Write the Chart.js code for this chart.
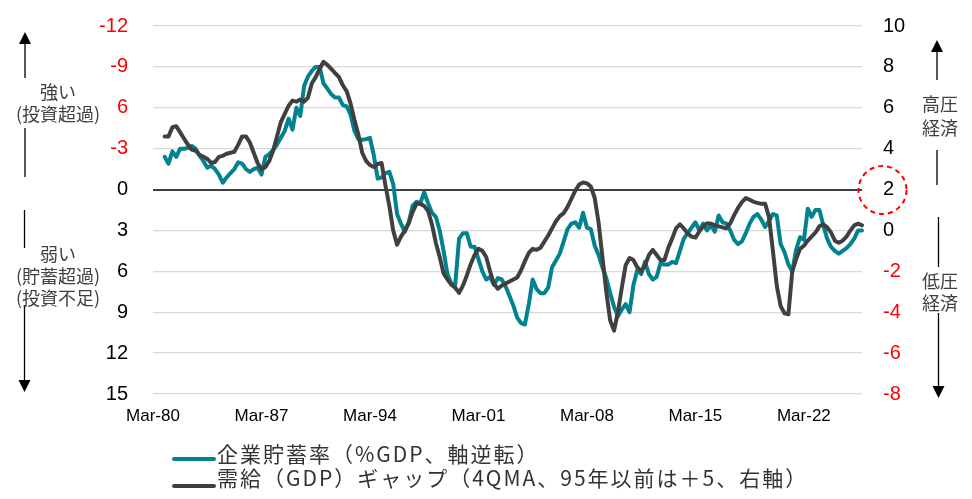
<!DOCTYPE html>
<html><head><meta charset="utf-8">
<script src="https://cdn.jsdelivr.net/npm/chart.js@4.4.1/dist/chart.umd.min.js"></script>
<style>
html,body{margin:0;padding:0;background:#fff;}
#wrap{position:relative;width:972px;height:499px;overflow:hidden;background:#fff;}
#c{position:absolute;left:0;top:0;}
.ann{position:absolute;width:120px;font-family:"Noto Sans CJK JP";font-size:18px;color:#404040;text-align:center;line-height:22px;white-space:nowrap;}
.legt{position:absolute;left:217px;font-family:"Noto Sans CJK JP";font-size:21px;letter-spacing:2px;color:#333;white-space:nowrap;line-height:26px;height:26px;}
.legs{position:absolute;left:172px;width:44px;height:4px;border-radius:2px;}
</style></head>
<body>
<div id="wrap">
<canvas id="c" width="972" height="499"></canvas>
<div class="ann" style="left:-2px;top:80px;">強い</div>
<div class="ann" style="left:-2px;top:102px;">(投資超過)</div>
<div class="ann" style="left:-2px;top:242px;">弱い</div>
<div class="ann" style="left:-2px;top:264px;">(貯蓄超過)</div>
<div class="ann" style="left:-2px;top:286px;">(投資不足)</div>
<div class="ann" style="left:880px;top:92px;">高圧</div>
<div class="ann" style="left:880px;top:116px;">経済</div>
<div class="ann" style="left:880px;top:269px;">低圧</div>
<div class="ann" style="left:880px;top:291px;">経済</div>
<div class="legs" id="sw1" style="top:457px;"></div>
<div class="legt" id="lt1" style="top:440px;"></div>
<div class="legs" id="sw2" style="top:484px;"></div>
<div class="legt" id="lt2" style="top:464px;"></div>
</div>
<script>
// ---- data ----
const months = ['Mar','Jun','Sep','Dec'];
const firstYear = 1980, lastYear = 2025;
const quarters = [];
for (let y = firstYear; y <= lastYear; y++) for (const m of months) quarters.push(m + '-' + String(y % 100).padStart(2,'0'));

const seriesNames = ['企業貯蓄率（%GDP、軸逆転）', '需給（GDP）ギャップ（4QMA、95年以前は＋5、右軸）'];
const seriesColors = ['#00838F', '#404040'];

// corporate savings rate, % of GDP (left axis, reversed)
const savings = [null,null,null,
-2.4,-1.9,-2.8,-2.4,-3.0,-3.0,-3.05,-3.2,-3.0,-2.5,
-2.1,-1.6,-1.75,-1.5,-1.1,-0.5,-0.9,-1.2,-1.5,-2.0,
-1.9,-1.5,-1.3,-1.5,-1.6,-1.1,-2.4,-2.6,-2.9,-3.3,
-3.8,-4.3,-5.2,-4.4,-6.0,-5.4,-7.6,-8.3,-8.7,-9.0,
-9.0,-7.8,-7.4,-7.0,-6.75,-6.75,-6.2,-6.1,-5.5,-4.3,
-3.7,-3.65,-3.7,-3.8,-2.5,-0.8,-0.9,-1.2,-1.3,-0.4,
1.8,2.5,3.1,2.4,1.2,0.9,1.0,0.2,1.0,1.7,
2.0,3.0,4.5,6.2,6.9,7.0,3.6,3.2,3.2,4.2,
4.2,5.1,6.0,6.6,6.4,7.0,6.5,6.6,7.1,7.8,
8.5,9.4,9.8,9.9,8.4,6.6,7.3,7.6,7.6,7.2,
5.7,5.2,4.7,3.8,2.9,2.5,2.4,2.8,1.7,2.8,
2.9,4.1,4.8,5.7,6.5,7.6,8.6,9.3,8.8,8.4,
9.0,7.0,5.9,6.2,5.3,6.2,6.6,6.4,5.4,5.5,
5.5,5.3,5.4,4.5,3.6,3.2,2.8,2.4,3.0,2.5,
3.0,2.6,3.1,1.9,2.4,2.5,3.0,3.7,4.0,3.8,
3.2,2.5,2.0,1.8,2.2,2.75,2.3,1.8,1.9,4.0,
4.6,5.5,6.0,4.4,3.5,3.7,1.4,2.0,1.5,1.5,
2.6,3.6,4.2,4.5,4.7,4.5,4.3,4.0,3.6,3.0,
3.0];

// output gap, 4QMA (right axis)
const outputGap = [null,null,null,
4.6,4.6,5.05,5.1,4.8,4.5,4.2,3.95,3.9,3.7,
3.6,3.5,3.3,3.35,3.6,3.65,3.75,3.8,3.85,4.2,
4.6,4.6,4.3,3.8,3.3,3.0,3.1,3.4,3.9,4.6,
5.3,5.7,6.1,6.35,6.3,6.4,6.3,6.5,7.2,7.5,
7.9,8.25,8.1,7.9,7.7,7.5,7.1,6.8,6.2,5.4,
4.7,3.8,3.4,3.2,3.1,3.25,3.3,2.2,1.2,0.0,
-0.7,-0.3,0.0,0.35,0.9,1.3,1.3,1.2,0.95,0.3,
-0.6,-1.3,-2.1,-2.4,-2.65,-2.8,-3.05,-2.7,-2.2,-1.65,
-1.2,-0.9,-1.0,-1.3,-2.0,-2.6,-2.85,-2.7,-2.6,-2.5,
-2.4,-2.3,-1.95,-1.5,-1.1,-0.9,-0.95,-0.85,-0.55,-0.25,
0.1,0.45,0.7,0.85,1.15,1.55,1.95,2.25,2.35,2.3,
2.15,1.6,0.4,-1.3,-3.0,-4.4,-4.9,-4.0,-2.8,-1.7,
-1.35,-1.45,-1.8,-2.0,-1.7,-1.2,-0.95,-1.2,-1.45,-1.45,
-0.85,-0.4,0.1,0.3,0.1,-0.15,-0.3,-0.35,-0.05,0.2,
0.35,0.33,0.25,0.2,0.15,0.1,0.35,0.75,1.1,1.38,
1.58,1.5,1.4,1.35,1.3,1.3,0.65,-1.0,-2.7,-3.7,
-4.05,-4.1,-2.0,-1.4,-0.9,-0.75,-0.5,-0.3,-0.1,0.2,
0.3,0.15,-0.1,-0.5,-0.6,-0.5,-0.3,0.0,0.25,0.33,
0.25];

const leftTicks = [-12,-9,-6,-3,0,3,6,9,12,15];
const leftTickText = ['-12','-9','6','-3','0','3','6','9','12','15'];
const rightTicks = [10,8,6,4,2,0,-2,-4,-6,-8];
const xTickEvery = 28;

// ---- legend (html text) ----
document.getElementById('sw1').style.background = seriesColors[0];
document.getElementById('sw2').style.background = seriesColors[1];
document.getElementById('lt1').textContent = seriesNames[0];
document.getElementById('lt2').textContent = seriesNames[1];

const decor = {
  id: 'decor',
  afterDraw(chart) {
    const ctx = chart.ctx;
    ctx.save();
    ctx.strokeStyle = '#000'; ctx.fillStyle = '#000'; ctx.lineWidth = 1.3;
    const seg = (x, a, b) => { ctx.beginPath(); ctx.moveTo(x, a); ctx.lineTo(x, b); ctx.stroke(); };
    const head = (x, tip, base) => { ctx.beginPath(); ctx.moveTo(x, tip); ctx.lineTo(x - 6, base); ctx.lineTo(x + 6, base); ctx.closePath(); ctx.fill(); };
    seg(25, 43, 78); head(25, 32, 44);
    seg(25, 128, 177);
    seg(24.5, 210, 248);
    seg(24.5, 305, 381); head(24.5, 392, 380);
    seg(937, 52, 80); head(937, 40, 52);
    seg(937, 150, 185);
    seg(938.5, 217, 267);
    seg(938.5, 313, 387); head(938.5, 398, 386);
    ctx.setLineDash([5, 4]); ctx.strokeStyle = '#FF0000'; ctx.lineWidth = 2;
    ctx.beginPath(); ctx.arc(882.5, 190, 24, 0, Math.PI * 2); ctx.stroke();
    ctx.restore();
  }
};

Chart.defaults.font.family = '"Liberation Sans", Arial, sans-serif';
new Chart(document.getElementById('c'), {
  type: 'line',
  data: {
    labels: quarters,
    datasets: [
      { label: seriesNames[0], data: savings, yAxisID: 'y', borderColor: seriesColors[0], order: 1 },
      { label: seriesNames[1], data: outputGap, yAxisID: 'y1', borderColor: seriesColors[1], order: 0 }
    ]
  },
  options: {
    responsive: false, animation: false, devicePixelRatio: 1,
    layout: { padding: { top: 26, left: 0, right: 0, bottom: 0 } },
    elements: {
      point: { radius: 0 },
      line: { borderWidth: 4, tension: 0, borderCapStyle: 'round', borderJoinStyle: 'round', fill: false }
    },
    plugins: { legend: { display: false }, tooltip: { enabled: false } },
    scales: {
      x: {
        type: 'category', offset: false,
        grid: { display: false, drawTicks: false }, border: { display: false },
        afterFit: s => { s.height = 105; },
        ticks: {
          autoSkip: false, maxRotation: 0, minRotation: 0, padding: 12,
          color: '#000', font: { size: 17 },
          callback: (v, i) => (i % xTickEvery === 0 ? quarters[i] : '')
        }
      },
      y: {
        position: 'left', reverse: true, min: -12, max: 15,
        border: { display: false },
        afterFit: s => { s.width = 153; },
        grid: {
          drawTicks: true, tickLength: 25, tickColor: 'rgba(0,0,0,0)',
          color: c => (c.tick && c.tick.value === 0 ? '#404040' : '#D9D9D9'),
          lineWidth: c => (c.tick && c.tick.value === 0 ? 2 : 1.3)
        },
        ticks: {
          stepSize: 3, padding: 0, font: { size: 20 },
          color: c => (c.tick && c.tick.value < 0 ? '#FF0000' : '#000'),
          callback: v => { const k = leftTicks.indexOf(v); return k >= 0 ? leftTickText[k] : ''; }
        }
      },
      y1: {
        position: 'right', min: -8, max: 10,
        border: { display: false },
        afterFit: s => { s.width = 110; },
        grid: { display: false, drawTicks: true, tickLength: 21 },
        ticks: {
          stepSize: 2, padding: 0, font: { size: 20 },
          color: c => (c.tick && c.tick.value < 0 ? '#FF0000' : '#000'),
          callback: v => (rightTicks.includes(v) ? String(v) : '')
        }
      }
    }
  },
  plugins: [decor]
});
</script>
</body></html>
